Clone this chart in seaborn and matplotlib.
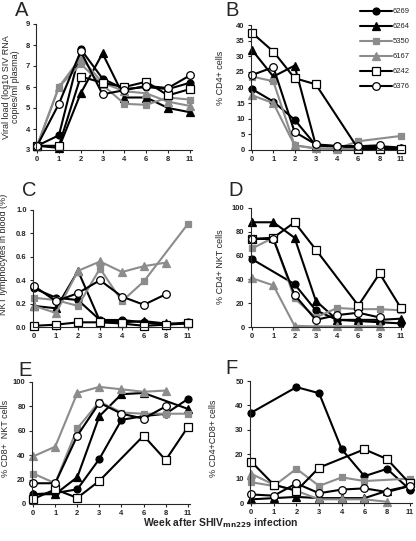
import numpy as np
import matplotlib
matplotlib.use("Agg")
import matplotlib.pyplot as plt
from matplotlib.lines import Line2D
import seaborn as sns

sns.set_style("ticks")
plt.rcParams['font.family'] = ['Liberation Sans', 'DejaVu Sans']

nan = np.nan
weeks = ["0", "1", "2", "3", "4", "6", "8", "11"]
animals = ["6269", "6264", "5350", "6167", "6242", "6376"]

# values, one list per animal (nan = no point)
viral_load = {
    "6269": [3.2, 3.7, 7.8, 6.4, 5.9, 6.0, 5.9, 6.2],
    "6264": [3.2, 3.1, 5.7, 7.6, 5.5, 5.5, 5.0, 4.8],
    "5350": [3.2, 6.0, 7.1, 6.1, 5.2, 5.15, 5.5, 5.4],
    "6167": [3.2, 6.0, 7.4, 6.2, 5.8, 5.7, 5.3, 5.1],
    "6242": [3.2, 3.2, 6.5, 6.2, 6.0, 6.25, 5.6, 5.9],
    "6376": [3.2, 5.2, 7.7, 5.65, 5.85, 6.05, 5.95, 6.55],
}
cd4 = {
    "6269": [19.5, 15.5, 9.7, 1.5, 1.2, 1.2, 1.2, 0.8],
    "6264": [32, 23.5, 27, 1.5, 1.0, 1.0, 0.8, 0.5],
    "5350": [23.5, 22, 1.5, 0.5, 0.5, 2.8, nan, 4.5],
    "6167": [17.5, 15, 1.5, 0.5, 0.3, 0.3, 0.3, 0.3],
    "6242": [37.5, 31.5, 23, 21, nan, 0.3, 0.3, 0.3],
    "6376": [24, 26.5, 5.8, 1.8, 1.3, 1.2, 1.5, nan],
}
nkt = {
    "6269": [0.33, 0.25, 0.23, 0.06, 0.06, 0.04, 0.02, 0.04],
    "6264": [0.18, 0.16, 0.48, 0.05, 0.04, 0.05, 0.03, 0.03],
    "5350": [0.25, 0.23, 0.18, 0.50, 0.22, 0.39, nan, 0.88],
    "6167": [0.18, 0.12, 0.48, 0.56, 0.47, 0.52, 0.55, nan],
    "6242": [0.01, 0.02, 0.04, 0.04, 0.03, 0.01, 0.02, 0.03],
    "6376": [0.35, 0.22, 0.29, 0.40, 0.26, 0.19, 0.28, nan],
}
cd4_nkt = {
    "6269": [57, nan, 36, 14, 6, 5, 4, 3],
    "6264": [88, 88, 75, 22, 6, 6, 6, 7],
    "5350": [66, 75, 24, 8, 16, 15, 15, 14],
    "6167": [41, 35, 1, 0.5, 0.5, 0.5, 0.5, nan],
    "6242": [74, 75, 88, 65, nan, 18, 45, 16],
    "6376": [74, 74, 27, 6, 10, 12, 8, nan],
}
cd8_nkt = {
    "6269": [8, 9, 12, 37, 69, 72, 74, 86],
    "6264": [8, 8, 22, 72, 90, 91, nan, 78],
    "5350": [25, 17, 62, 84, 75, 74, 74, 74],
    "6167": [39, 47, 91, 96, 94, 92, 93, nan],
    "6242": [4, 12, 5, 19, nan, 56, 36, 63],
    "6376": [17, 17, 56, 83, 74, 70, 80, nan],
}
dp = {
    "6269": [37, nan, 47.5, 45, 22, 11, 14, 5.5],
    "6264": [1.5, 2, 2.5, 2, 2, 2, 5, 7],
    "5350": [8.5, 7, 14, 7, 10.5, 9, nan, 10],
    "6167": [12, 7.5, 5, 1.5, 1.5, 1.5, 0.5, nan],
    "6242": [17, 7.5, 5, 14.5, nan, 22, 18, 8],
    "6376": [3.5, 3, 8, 4, 5.5, 6, 4.5, 7],
}

gray = '#8c8c8c'
styles = {
    "6269": dict(color='black', marker='o', markerfacecolor='black', markeredgecolor='black', markersize=5),
    "6264": dict(color='black', marker='^', markerfacecolor='black', markeredgecolor='black', markersize=5.5),
    "5350": dict(color=gray, marker='s', markerfacecolor=gray, markeredgecolor=gray, markersize=5),
    "6167": dict(color=gray, marker='^', markerfacecolor=gray, markeredgecolor=gray, markersize=5.5),
    "6242": dict(color='black', marker='s', markerfacecolor='white', markeredgecolor='black', markersize=5.5),
    "6376": dict(color='black', marker='o', markerfacecolor='white', markeredgecolor='black', markersize=5.5),
}

W, H = 416, 541
fig = plt.figure(figsize=(W / 100, H / 100), dpi=100)

def make_ax(l, r, t, b):
    return fig.add_axes([l / W, 1 - b / H, (r - l) / W, (b - t) / H])

def draw_panel(ax, data, ylim, yticks, fmt, ylabel, lx, ly):
    pos = np.arange(len(weeks))
    for a in animals:
        vals = np.array(data[a], float)
        ok = ~np.isnan(vals)
        sns.lineplot(x=pos[ok], y=vals[ok], ax=ax, linewidth=1.5, markeredgewidth=0.9,
                     clip_on=False, legend=False, **styles[a])
    ax.set_xlim(-0.05, 7.1)
    ax.set_ylim(*ylim)
    ax.set_xticks(pos)
    ax.set_xticklabels(weeks)
    ax.set_yticks(yticks)
    ax.set_yticklabels([fmt.format(v) for v in yticks])
    for lab in ax.get_xticklabels() + ax.get_yticklabels():
        lab.set_fontweight('bold')
    ax.tick_params(labelsize=5.5, length=2.5, width=0.8, pad=2)
    sns.despine(ax=ax)
    for s in ax.spines.values():
        s.set_linewidth(0.8)
    ax.set_ylabel(ylabel, fontsize=6.5, linespacing=1.1)
    ax.yaxis.set_label_coords(lx, ly)

axA = make_ax(36, 192, 24, 150)
draw_panel(axA, viral_load, (3, 9), [3, 4, 5, 6, 7, 8, 9], "{:.0f}",
           "Viral load (log10 SIV RNA\ncopies/ml plasma)", -0.1, 0.5)
axB = make_ax(251, 403, 25, 150)
draw_panel(axB, cd4, (0, 40), [0, 5, 10, 15, 20, 25, 30, 35, 40], "{:.0f}",
           "% CD4+ cells", -0.17, 0.58)
axC = make_ax(33, 190, 210, 327)
draw_panel(axC, nkt, (0, 1.0), [0, 0.2, 0.4, 0.6, 0.8, 1.0], "{:.1f}",
           "NKT lymphocytes in blood (%)", -0.16, 0.62)
axD = make_ax(251, 403, 208, 327)
draw_panel(axD, cd4_nkt, (0, 100), [0, 20, 40, 60, 80, 100], "{:.0f}",
           "% CD4+ NKT cells", -0.17, 0.51)
axE = make_ax(32, 190, 382, 504)
draw_panel(axE, cd8_nkt, (0, 100), [0, 20, 40, 60, 80, 100], "{:.0f}",
           "% CD8+  NKT cells", -0.14, 0.54)
axF = make_ax(250, 412, 381, 503)
draw_panel(axF, dp, (0, 50), [0, 10, 20, 30, 40, 50], "{:.0f}",
           "% CD4+CD8+ cells", -0.2, 0.53)

# panel letters
for letter, (x, y) in zip("ABCDEF", [(15, 10), (225, 10), (22, 190), (228, 190), (18, 370), (225, 368)]):
    fig.text(x / W, 1 - y / H, letter, fontsize=14.5, ha='left', va='center')

fig.text(221 / W, 1 - 523 / H, r"Week after SHIV$_{\mathbf{mn229}}$ infection",
         fontsize=7.5, fontweight='bold', ha='center', va='center')

handles = [Line2D([], [], linewidth=1.5, markeredgewidth=0.9, **styles[a]) for a in animals]
fig.legend(handles, animals, loc='upper left', bbox_to_anchor=(360 / W, 1 - 8 / H),
           frameon=False, fontsize=5.5, handlelength=4.2, handletextpad=0.1,
           labelspacing=1.0, borderaxespad=0, borderpad=0)

fig.savefig("out.png", dpi=100)
